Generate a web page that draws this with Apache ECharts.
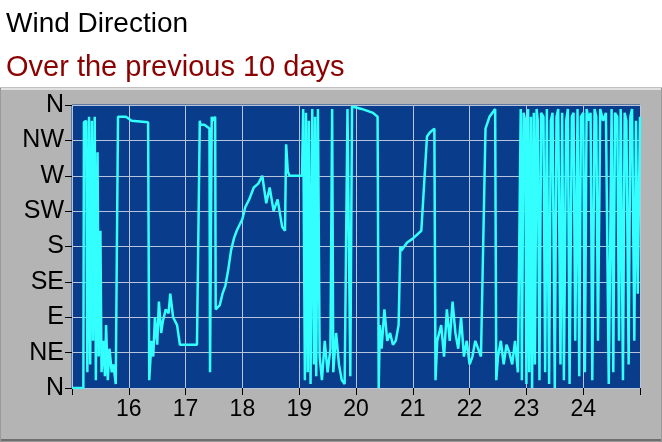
<!DOCTYPE html>
<html>
<head>
<meta charset="utf-8">
<script src="https://cdn.jsdelivr.net/npm/echarts@6/dist/echarts.min.js"></script>
<style>body{margin:0;background:#fff}#c{width:662px;height:442px}</style>
</head>
<body>
<div id="c"></div>
<script>
// 风向标签
var dirLabels = ['N', 'NE', 'E', 'SE', 'S', 'SW', 'W', 'NW', 'N'];
// x轴刻度（天）
var dayTicks = [16, 17, 18, 19, 20, 21, 22, 23, 24];
// 时间（天）
var times = [
	15.0, 15.2, 15.21, 15.25, 15.27, 15.3, 15.32, 15.35, 15.37, 15.4, 15.42, 15.45, 15.47, 15.5, 15.52, 15.55, 15.58, 15.6, 15.63, 15.66, 15.7, 15.73, 15.77, 15.8,
	15.81, 15.95, 16.05, 16.34, 16.36, 16.4, 16.43, 16.46, 16.5, 16.53, 16.57, 16.6, 16.65, 16.7, 16.73, 16.78, 16.85, 16.9, 16.95, 17.2, 17.25, 17.26, 17.33, 17.42, 17.43, 17.46, 17.47, 17.52, 17.53,
	17.6, 17.65, 17.7, 17.75, 17.8, 17.85, 17.9, 18.0, 18.05, 18.12, 18.2, 18.28, 18.35, 18.42, 18.48, 18.55, 18.62, 18.7, 18.75, 18.77, 18.8, 18.83, 18.9, 19.05,
	19.07, 19.1, 19.12, 19.15, 19.17, 19.2, 19.23, 19.26, 19.28, 19.3, 19.33, 19.36, 19.4, 19.45, 19.5, 19.55, 19.58, 19.6, 19.65, 19.7, 19.75, 19.8, 19.85, 19.9,
	19.93, 20.1, 20.3, 20.38, 20.4, 20.42, 20.45, 20.5, 20.55, 20.6, 20.65, 20.7, 20.75, 20.78, 20.8, 20.9, 21.0, 21.15, 21.25, 21.3, 21.38, 21.4, 21.43, 21.5, 21.55, 21.6, 21.65, 21.7, 21.75, 21.8, 21.85, 21.9, 21.95, 22.0,
	22.05, 22.1, 22.2, 22.28, 22.35, 22.45, 22.47, 22.5, 22.55, 22.6, 22.65, 22.7, 22.75, 22.8, 22.85, 22.9, 22.92, 22.95, 22.98, 23.0, 23.03, 23.05, 23.08, 23.1, 23.13, 23.15,
	23.18, 23.2, 23.23, 23.26, 23.3, 23.33, 23.36, 23.4, 23.43, 23.46, 23.5, 23.53, 23.56, 23.6, 23.63, 23.66, 23.7, 23.73, 23.76, 23.8, 23.83, 23.86, 23.9, 23.93, 23.96, 24.0,
	24.03, 24.06, 24.1, 24.13, 24.16, 24.2, 24.23, 24.26, 24.3, 24.35, 24.4, 24.45, 24.5, 24.53, 24.56, 24.6, 24.63, 24.66, 24.7, 24.73, 24.76, 24.8, 24.83, 24.86, 24.9, 24.93, 24.96, 25.0
];
// 风向（度）
var degrees = [
	0, 0, 338, 340, 20, 345, 30, 340, 60, 345, 10, 300, 40, 200, 20, 60, 15, 80, 10, 50, 20, 30, 5, 5,
	345, 345, 340, 338, 10, 60, 40, 90, 55, 110, 70, 85, 100, 95, 120, 90, 80, 55, 55, 55, 340, 335, 335, 330, 20, 345, 340, 345, 100,
	105, 120, 130, 150, 175, 190, 200, 215, 230, 240, 255, 260, 270, 235, 255, 225, 240, 205, 200, 310, 275, 270, 270, 270,
	355, 10, 350, 20, 340, 5, 355, 30, 345, 15, 355, 40, 10, 60, 20, 50, 355, 20, 70, 30, 10, 5, 355, 15,
	358, 355, 350, 345, 0, 80, 50, 100, 60, 70, 55, 60, 80, 180, 175, 185, 190, 200, 320, 325, 330, 10, 60, 80, 40, 100, 60, 110, 70, 50, 90, 40, 60, 30,
	40, 60, 40, 330, 345, 355, 10, 40, 60, 30, 55, 45, 30, 60, 20, 355, 10, 350, 340, 5, 355, 20, 345, 0, 350, 30,
	355, 340, 10, 350, 345, 20, 355, 5, 340, 350, 0, 345, 355, 30, 350, 10, 340, 355, 5, 345, 350, 60, 355, 15, 345, 350,
	20, 355, 340, 350, 10, 355, 345, 60, 355, 340, 350, 5, 355, 20, 350, 345, 60, 355, 10, 350, 340, 30, 345, 355, 60, 340, 120, 345
];

var seriesData = [];
for (var i = 0; i < times.length; i++) {
	seriesData.push([times[i], degrees[i]]);
}

var chart = echarts.init(document.getElementById('c'));
chart.setOption({
	animation: false,
	backgroundColor: '#ffffff',
	graphic: [{
		type: 'rect', z: -10,
		shape: { x: 0, y: 88, width: 662, height: 354 },
		style: { fill: '#b4b4b4', stroke: '#808080', lineWidth: 1 }
	}, {
		type: 'line', z: -9,
		shape: { x1: 1, y1: 89, x2: 661, y2: 89 },
		style: { stroke: '#e0e0e0', lineWidth: 2 }
	}, {
		type: 'line', z: -9,
		shape: { x1: 1, y1: 440, x2: 661, y2: 440 },
		style: { stroke: '#6e6e6e', lineWidth: 2 }
	}],
	title: [{
		text: 'Wind Direction', left: 1, top: 5,
		textStyle: { fontFamily: 'Liberation Sans', fontSize: 28, fontWeight: 'normal', color: '#000' }
	}, {
		text: 'Over the previous 10 days', left: 1, top: 48,
		textStyle: { fontFamily: 'Liberation Sans', fontSize: 29, fontWeight: 'normal', color: '#8b0000' }
	}],
	grid: { left: 72, right: 22, top: 105, bottom: 54, show: true, backgroundColor: '#0a3c8c', borderColor: '#0a3c8c' },
	xAxis: {
		type: 'value', min: 15, max: 25, interval: 1,
		axisLine: { show: false },
		axisTick: { show: true, length: 7, lineStyle: { color: '#000' } },
		axisLabel: {
			fontFamily: 'Liberation Sans', fontSize: 23, color: '#000', margin: 10,
			formatter: function (v) { return dayTicks.indexOf(v) >= 0 ? String(v) : ''; }
		},
		splitLine: { lineStyle: { color: '#b8c4dc', width: 1 } }
	},
	yAxis: {
		type: 'value', min: 0, max: 360, interval: 45,
		axisLine: { show: false },
		axisTick: { show: true, length: 7, lineStyle: { color: '#000' } },
		axisLabel: {
			fontFamily: 'Liberation Sans', fontSize: 25, color: '#000', margin: 8,
			formatter: function (v) { return dirLabels[Math.round(v / 45)]; }
		},
		splitLine: { lineStyle: { color: '#b8c4dc', width: 1 } }
	},
	series: [{
		type: 'line', data: seriesData, showSymbol: false,
		lineStyle: { color: '#33ffff', width: 2.5 }
	}]
});
</script>
</body>
</html>
